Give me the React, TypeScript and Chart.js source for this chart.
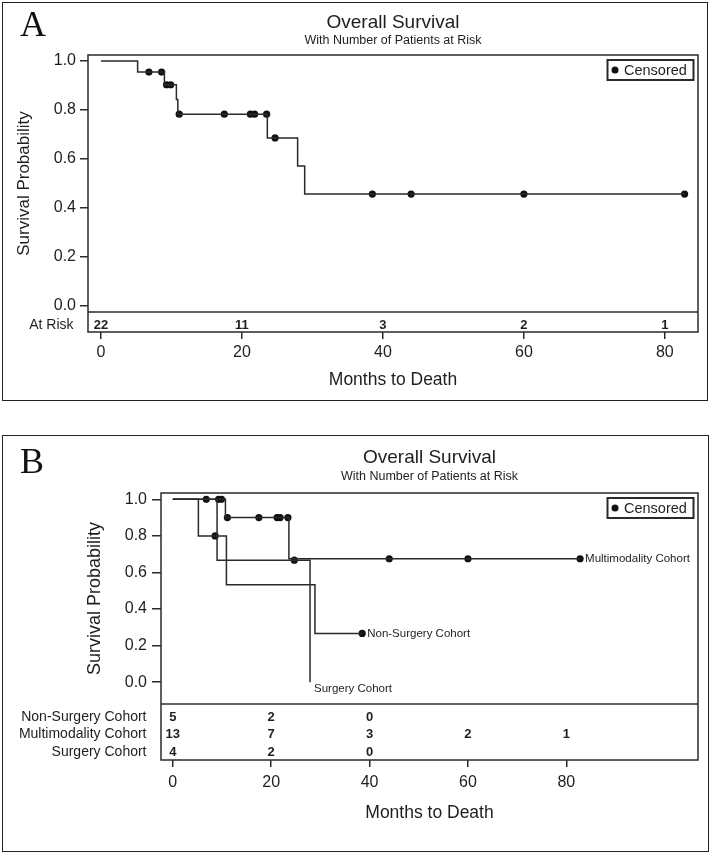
import React, { useEffect, useRef } from 'react';
import { Chart, registerables } from 'chart.js';

Chart.register(...registerables);

const FONT = '"Liberation Sans", Arial, Helvetica, sans-serif';
const SERIF = '"Liberation Serif", "Times New Roman", serif';
const TEXT = '#1e1e1e';
const LINE = '#2a2a2a';

// ---- shared axes ----
const xTickValues = [0, 20, 40, 60, 80];
const yTickValues = [0, 0.2, 0.4, 0.6, 0.8, 1.0];
const riskTimes = [0, 20, 40, 60, 80];

// ---- Panel A: all patients ----
const allTimes = [0, 5.2, 9.0, 10.7, 10.9, 23.6, 27.9, 28.9, 82.8];
const allSurvival = [1, 0.955, 0.903, 0.843, 0.783, 0.686, 0.571, 0.457, 0.457];
const allCensorTimes = [6.8, 8.6, 9.3, 9.9, 11.1, 17.5, 21.2, 21.8, 23.5, 24.7, 38.5, 44.0, 60.0, 82.8];
const allCensorSurvival = [0.955, 0.955, 0.903, 0.903, 0.783, 0.783, 0.783, 0.783, 0.783, 0.686, 0.457, 0.457, 0.457, 0.457];
const allAtRisk = [22, 11, 3, 2, 1];

// ---- Panel B: cohorts ----
const multiTimes = [0, 10.7, 23.6, 82.8];
const multiSurvival = [1, 0.9, 0.675, 0.675];
const multiCensorTimes = [6.8, 9.3, 9.9, 11.1, 17.5, 21.2, 21.8, 23.4, 44.0, 60.0, 82.8];
const multiCensorSurvival = [1, 1, 1, 0.9, 0.9, 0.9, 0.9, 0.9, 0.675, 0.675, 0.675];
const multiAtRisk = [13, 7, 3, 2, 1];

const nonTimes = [0, 5.2, 10.9, 28.9, 38.5];
const nonSurvival = [1, 0.8, 0.533, 0.267, 0.267];
const nonCensorTimes = [8.6, 38.5];
const nonCensorSurvival = [0.8, 0.267];
const nonAtRisk = [5, 2, 0, null, null];

const surgTimes = [0, 9.0, 27.9];
const surgSurvival = [1, 0.667, 0];
const surgCensorTimes = [24.7];
const surgCensorSurvival = [0.667];
const surgAtRisk = [4, 2, 0, null, null];

const pts = (t: number[], s: number[]) => t.map((x, i) => ({ x, y: s[i] }));

function curve(t: number[], s: number[]) {
  return {
    type: 'line',
    data: pts(t, s),
    stepped: 'before',
    borderColor: LINE,
    borderWidth: 1.5,
    pointRadius: 0,
    fill: false,
    tension: 0,
  };
}
function censored(t: number[], s: number[]) {
  return {
    type: 'line',
    data: pts(t, s),
    showLine: false,
    pointRadius: 3.6,
    pointBackgroundColor: '#111',
    pointBorderWidth: 0,
    pointStyle: 'circle',
  };
}

type Row = { label: string; values: (number | null)[] };
type CurveLabel = { text: string; x: number; y: number; below?: boolean };

function makeDecor(o: any) {
  return {
    id: 'decor',
    afterDraw(chart: any) {
      const { ctx, chartArea: ca, scales } = chart;
      const xs = scales.x;
      const ys = scales.y;
      const sepY = ys.getPixelForValue(o.sepValue);
      ctx.save();
      // frame + separator
      ctx.strokeStyle = LINE;
      ctx.lineWidth = 1.5;
      ctx.strokeRect(ca.left, ca.top, ca.right - ca.left, ca.bottom - ca.top);
      ctx.beginPath();
      ctx.moveTo(ca.left, sepY);
      ctx.lineTo(ca.right, sepY);
      ctx.stroke();
      // panel letter
      ctx.fillStyle = '#111';
      ctx.font = `36px ${SERIF}`;
      ctx.textAlign = 'left';
      ctx.textBaseline = 'alphabetic';
      ctx.fillText(o.letter, 20, o.letterBaseline);
      // titles
      ctx.fillStyle = TEXT;
      const cx = (ca.left + ca.right) / 2;
      ctx.textAlign = 'center';
      ctx.textBaseline = 'middle';
      ctx.font = `19px ${FONT}`;
      ctx.fillText('Overall Survival', cx, o.titleY);
      ctx.font = `12.5px ${FONT}`;
      ctx.fillText('With Number of Patients at Risk', cx, o.subtitleY);
      // y title
      ctx.save();
      ctx.translate(o.yTitleX, (ca.top + sepY) / 2);
      ctx.rotate(-Math.PI / 2);
      ctx.font = `${o.yTitleSize}px ${FONT}`;
      ctx.fillText('Survival Probability', 0, 0);
      ctx.restore();
      // at-risk table
      (o.rows as Row[]).forEach((row, i) => {
        const y = sepY + 13 + i * 17.5;
        ctx.font = `14px ${FONT}`;
        ctx.textAlign = 'right';
        ctx.fillText(row.label, ca.left - 14.5, y);
        ctx.font = `bold 13px ${FONT}`;
        ctx.textAlign = 'center';
        row.values.forEach((v, j) => {
          if (v === null || v === undefined) return;
          ctx.fillText(String(v), xs.getPixelForValue(riskTimes[j]), y);
        });
      });
      // legend
      const lw = 86, lh = 20;
      const lx = ca.right - 4.5 - lw;
      const ly = ca.top + 5;
      ctx.lineWidth = 2;
      ctx.strokeStyle = LINE;
      ctx.strokeRect(lx, ly, lw, lh);
      ctx.beginPath();
      ctx.fillStyle = '#111';
      ctx.arc(lx + 7.5, ly + lh / 2, 3.5, 0, Math.PI * 2);
      ctx.fill();
      ctx.fillStyle = TEXT;
      ctx.textAlign = 'left';
      ctx.font = `14.5px ${FONT}`;
      ctx.fillText('Censored', lx + 16.5, ly + lh / 2 + 0.5);
      // curve labels
      ctx.font = `11.5px ${FONT}`;
      ((o.curveLabels || []) as CurveLabel[]).forEach((c) => {
        const px = xs.getPixelForValue(c.x);
        const py = ys.getPixelForValue(c.y);
        ctx.textAlign = 'left';
        ctx.textBaseline = 'middle';
        ctx.fillText(c.text, px + (c.below ? 4 : 5), c.below ? py + 7 : py);
      });
      ctx.restore();
    },
  };
}

function makeOptions(p: any) {
  return {
    responsive: false,
    animation: false,
    events: [],
    layout: { padding: { top: p.top, right: p.right, left: 0, bottom: 0 } },
    plugins: { legend: { display: false }, tooltip: { enabled: false }, title: { display: false } },
    scales: {
      x: {
        type: 'linear',
        min: p.xMin,
        max: p.xMax,
        afterBuildTicks: (s: any) => {
          s.ticks = xTickValues.map((v) => ({ value: v }));
        },
        afterFit: (s: any) => {
          s.height = p.xHeight;
        },
        grid: { drawOnChartArea: false, drawTicks: true, tickLength: 7, color: LINE, lineWidth: 1.5 },
        border: { display: false },
        ticks: {
          padding: p.xPad,
          color: TEXT,
          font: { size: 16, family: FONT },
          maxRotation: 0,
          autoSkip: false,
          callback: (v: any) => String(v),
        },
        title: {
          display: true,
          text: 'Months to Death',
          color: TEXT,
          font: { size: 17.5, family: FONT },
          padding: { top: 0, bottom: p.xTitlePad },
        },
      },
      y: {
        type: 'linear',
        min: p.yMin,
        max: p.yMax,
        afterBuildTicks: (s: any) => {
          s.ticks = yTickValues.map((v) => ({ value: v }));
        },
        afterFit: (s: any) => {
          s.width = p.yWidth;
        },
        grid: { drawOnChartArea: false, drawTicks: true, tickLength: p.yTick, color: LINE, lineWidth: 1.5 },
        border: { display: false },
        ticks: {
          padding: p.yPad,
          color: TEXT,
          font: { size: 16, family: FONT },
          callback: (v: any) => Number(v).toFixed(1),
        },
      },
    },
  };
}

function Panel(props: { top: number; height: number; cfg: any; datasets: any[]; decor: any }) {
  const ref = useRef<HTMLCanvasElement>(null);
  useEffect(() => {
    if (!ref.current) return;
    const chart = new Chart(ref.current, {
      type: 'line',
      data: { datasets: props.datasets },
      options: makeOptions(props.cfg) as any,
      plugins: [makeDecor(props.decor)],
    } as any);
    return () => chart.destroy();
  }, []);
  return (
    <canvas
      ref={ref}
      width={711}
      height={props.height}
      style={{ position: 'absolute', left: 0, top: props.top, width: 711, height: props.height }}
    />
  );
}

export default function App() {
  useEffect(() => {
    document.body.style.margin = '0';
    document.body.style.background = '#fff';
  }, []);

  const datasetsA = [curve(allTimes, allSurvival), censored(allCensorTimes, allCensorSurvival)];
  const datasetsB = [
    curve(multiTimes, multiSurvival),
    curve(nonTimes, nonSurvival),
    curve(surgTimes, surgSurvival),
    censored(multiCensorTimes, multiCensorSurvival),
    censored(nonCensorTimes, nonCensorSurvival),
    censored(surgCensorTimes, surgCensorSurvival),
  ];

  const cfgA = {
    top: 55, right: 13, xMin: -1.84, xMax: 84.7, xHeight: 73, xPad: 4.4, xTitlePad: 14,
    yMin: -0.1061, yMax: 1.0245, yWidth: 88, yTick: 8, yPad: 4,
  };
  const decorA = {
    letter: 'A', letterBaseline: 36, titleY: 23, subtitleY: 41, yTitleX: 24, yTitleSize: 17,
    sepValue: -0.0245,
    rows: [{ label: 'At Risk', values: allAtRisk }],
  };
  const cfgB = {
    top: 63, right: 13, xMin: -2.4, xMax: 106.77, xHeight: 102, xPad: 6.4, xTitlePad: 38.8,
    yMin: -0.4253, yMax: 1.0345, yWidth: 161, yTick: 9, yPad: 5,
  };
  const decorB = {
    letter: 'B', letterBaseline: 43, titleY: 28, subtitleY: 47, yTitleX: 95, yTitleSize: 18,
    sepValue: -0.1188,
    rows: [
      { label: 'Non-Surgery Cohort', values: nonAtRisk },
      { label: 'Multimodality Cohort', values: multiAtRisk },
      { label: 'Surgery Cohort', values: surgAtRisk },
    ],
    curveLabels: [
      { text: 'Multimodality Cohort', x: multiTimes[multiTimes.length - 1], y: multiSurvival[multiSurvival.length - 1] },
      { text: 'Non-Surgery Cohort', x: nonTimes[nonTimes.length - 1], y: nonSurvival[nonSurvival.length - 1] },
      { text: 'Surgery Cohort', x: surgTimes[surgTimes.length - 1], y: surgSurvival[surgSurvival.length - 1], below: true },
    ],
  };

  return (
    <div style={{ position: 'relative', width: 711, height: 862, background: '#fff', overflow: 'hidden' }}>
      <div style={{ position: 'absolute', left: 2, top: 2, width: 706, height: 399, border: '1.5px solid #222', boxSizing: 'border-box' }} />
      <div style={{ position: 'absolute', left: 2, top: 435, width: 707, height: 417, border: '1.5px solid #222', boxSizing: 'border-box' }} />
      <Panel top={0} height={405} cfg={cfgA} datasets={datasetsA} decor={decorA} />
      <Panel top={430} height={432} cfg={cfgB} datasets={datasetsB} decor={decorB} />
    </div>
  );
}
